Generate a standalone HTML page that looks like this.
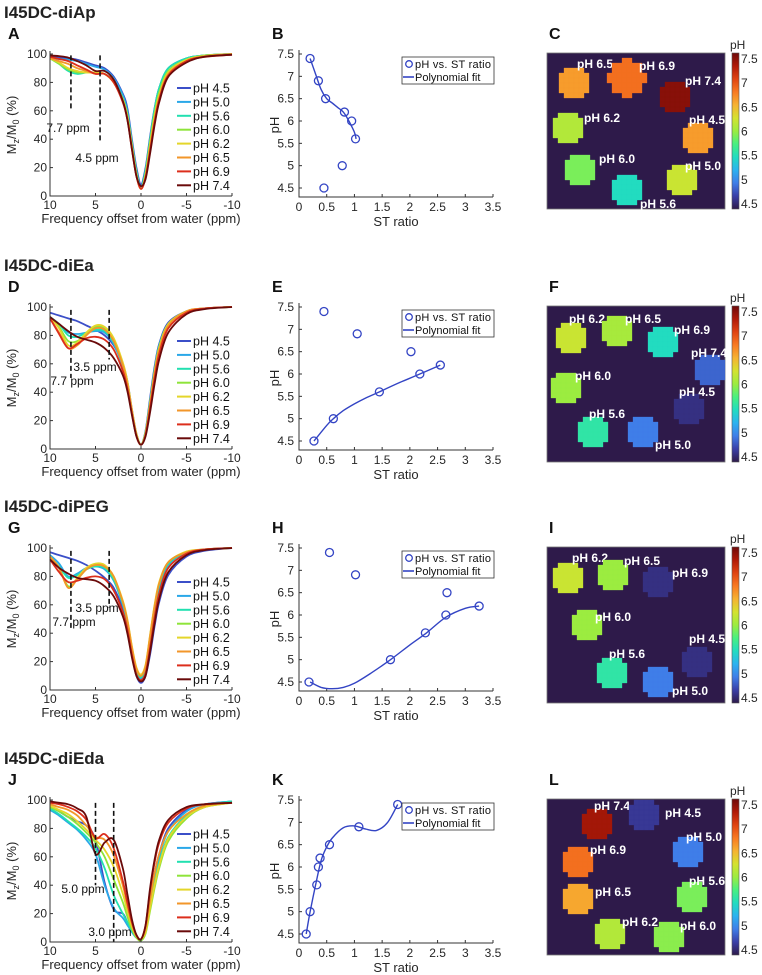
<!DOCTYPE html>
<html><head><meta charset="utf-8">
<style>
html,body{margin:0;padding:0;background:#fff;}
svg{display:block;font-family:"Liberation Sans",Arial,sans-serif;}
</style></head>
<body>
<svg id="fig" width="762" height="975" viewBox="0 0 762 975" xmlns="http://www.w3.org/2000/svg"></svg>
<script>
// ---------- DATA ----------
const rowTitles = ["I45DC-diAp","I45DC-diEa","I45DC-diPEG","I45DC-diEda"];
const panelLetters = [["A","B","C"],["D","E","F"],["G","H","I"],["J","K","L"]];
const phLabels = ["pH 4.5","pH 5.0","pH 5.6","pH 6.0","pH 6.2","pH 6.5","pH 6.9","pH 7.4"];
const phColors = ["#3b4fc8","#2aa8e8","#22e0b0","#8ee43a","#e4d62a","#f2962a","#dc2e1c","#6a0a0a"];
const zX = [10,9,8,7,6,5,4,3,2,1.5,1,0.5,0,-0.5,-1,-1.5,-2,-3,-5,-7,-10];
const zTicksX = [10,5,0,-5,-10];
const zTicksY = [0,20,40,60,80,100];

const zA = [
 [98,97.5,97,96,94,92,90,84,72,62,40,20,8,20,42,62,76,90,97,99,100],
 [97,96.5,96,95,93,91,89,83,71,60,38,18,6,18,40,61,76,90,97,99,100],
 [97,93,88,86,87,87,86,81,69,58,37,17,6,18,40,61,76,90,97,99,100],
 [97,93,89,87,87,87,86,80,68,57,36,16,5,16,38,58,73,88,96,99,100],
 [97,94,90,88,87,87,86,80,68,56,35,15,5,15,36,56,71,87,96,98.5,100],
 [97,95,93,90,88,86,86,80,67,55,34,14,5,14,34,54,69,86,95,98.5,100],
 [98,96.5,95,92,89,86,86,80,66,54,33,14,5,13,32,52,68,85,95,98,99.5],
 [99,98.5,97.5,95,92,88,88,82,67,54,33,14,7,12,30,50,66,84,94,98,99.5]];
const zD = [
 [96,94,92,90,87,84,80,73,60,48,28,11,3,13,36,58,74,89,97,99,100],
 [93,88,82,81,82,83,82,74,58,45,26,10,3,12,34,56,73,88,97,99,100],
 [93,88,80,79,82,84,83,75,59,46,27,10,3,12,33,55,72,88,97,99,100],
 [93,86,76,76,81,86,85,77,60,47,27,10,3,12,33,55,72,88,97,99,100],
 [93,85,73,75,82,87,86,78,61,48,28,11,3,11,32,54,71,88,97,99,100],
 [92,82,71,73,80,85,84,76,59,46,27,10,3,11,31,53,70,87,97,99,100],
 [92,81,71,74,78,79,77,70,55,43,25,9,3,10,29,50,67,85,96,99,100],
 [93,88,83,79,77,75,71,64,52,41,24,9,3,9,26,46,63,82,95,98.5,100]];
const zG = [
 [97,95,93,91,88,84,79,72,57,44,25,10,5,10,25,45,62,81,94,98,100],
 [95,89,80,82,86,87,85,77,60,47,28,13,8,15,35,56,72,88,97,99,100],
 [94,87,79,81,85,87,86,78,61,48,29,14,9,16,37,58,74,89,97,99,100],
 [94,86,73,78,85,88,87,79,62,49,30,15,10,17,38,59,75,90,97,99,100],
 [94,86,72,79,86,89,88,80,63,50,31,16,11,18,39,60,76,90,97.5,99,100],
 [94,86,72,78,85,88,87,80,62,49,30,15,10,17,38,59,75,90,97,99,100],
 [92,83,76,77,79,80,78,70,55,43,25,11,7,12,30,51,68,86,96,99,100],
 [92,86,82,79,78,77,73,66,52,40,23,10,6,10,27,47,64,83,95,98.5,100]];
const zJ = [
 [95,92,88,85,82,72,42,23,20,14,8,4,2,10,30,48,62,80,93,97,99],
 [93,89,84,79,72,62,40,24,17,12,7,3,2,9,28,46,60,78,92,97,99],
 [94,90,85,80,74,66,52,33,20,14,8,3,2,8,25,42,56,74,89,96,99],
 [95,92,88,83,77,70,60,44,28,18,9,3,1,6,22,38,52,71,87,95,98],
 [96,93,90,85,79,72,65,53,34,22,11,4,2,7,24,40,54,73,88,95,98],
 [97,95,93,89,82,74,72,61,40,26,13,4,2,9,30,48,62,78,90,96,98],
 [98,97,95,92,86,73,76,66,43,28,14,5,2,12,36,56,70,84,94,97,98],
 [99,98,97,94,88,62,70,72,52,34,16,5,2,12,38,58,72,86,95,97,98]];
const zSets = [zA,zD,zG,zJ];
const markers = [[[7.7,99,60],[4.5,99,38]],[[7.7,98,50],[3.5,98,63]],[[7.7,98,42],[3.5,98,58]],[[5.0,98,40],[3.0,98,0]]];
const markerLabels = [[["7.7 ppm",68,74],["4.5 ppm",97,104]],[["3.5 ppm",95,60],["7.7 ppm",72,74]],[["3.5 ppm",97,60],["7.7 ppm",74,74]],[["5.0 ppm",83,89],["3.0 ppm",110,132]]];

// scatter
const stTicksX = [0,0.5,1,1.5,2,2.5,3,3.5];
const stTicksY = [4.5,5,5.5,6,6.5,7,7.5];
const phVals = [4.5,5.0,5.6,6.0,6.2,6.5,6.9,7.4];
const stB = [0.45,0.78,1.02,0.95,0.82,0.48,0.35,0.2];
const stE = [0.27,0.62,1.45,2.18,2.55,2.02,1.05,0.45];
const stH = [0.18,1.65,2.28,2.65,3.25,2.67,1.02,0.55];
const stK = [0.13,0.2,0.32,0.35,0.38,0.55,1.08,1.78];
const stSets = [stB,stE,stH,stK];
const fitBx = [0.2,0.3,0.4,0.5,0.6,0.7,0.8,0.9,1.0,1.03];
const fitBy = [7.4,7.05,6.7,6.5,6.4,6.3,6.2,6.0,5.75,5.6];
const fitEx = [0.27,0.5,0.62,0.8,1.0,1.2,1.45,1.8,2.18,2.55];
const fitEy = [4.5,4.85,5.0,5.18,5.33,5.46,5.6,5.8,6.0,6.2];
const fitHx = [0.2,0.4,0.6,0.8,1.0,1.3,1.65,2.0,2.3,2.65,3.0,3.25];
const fitHy = [4.5,4.38,4.35,4.38,4.47,4.7,5.0,5.33,5.6,5.95,6.15,6.2];
const fitKx = [0.13,0.2,0.3,0.4,0.5,0.6,0.8,1.0,1.2,1.4,1.6,1.78];
const fitKy = [4.5,5.0,5.6,6.15,6.45,6.65,6.88,6.92,6.85,6.82,7.0,7.4];
const fitXs = [fitBx,fitEx,fitHx,fitKx];
const fitYs = [fitBy,fitEy,fitHy,fitKy];

// pH maps: [label, measured pH, cx, cy, r, labelX, labelY] (relative to image)
const mapC = [["pH 6.5",6.6,27,30,17,48,10],["pH 6.9",6.8,80,25,18,110,12],["pH 7.4",7.4,128,44,17,156,27],["pH 6.2",6.1,21,75,17,55,64],["pH 4.5",6.6,151,85,17,160,66],["pH 6.0",5.9,33,117,17,70,105],["pH 5.0",6.2,135,127,17,156,112],["pH 5.6",5.5,80,137,17,111,150]];
const mapF = [["pH 6.2",6.2,24,32,16,40,12],["pH 6.5",6.05,70,25,16,96,12],["pH 6.9",5.5,116,36,16,145,23],["pH 7.4",4.9,163,64,16,162,46],["pH 6.0",6.0,19,82,16,46,69],["pH 4.5",4.65,142,103,16,150,85],["pH 5.6",5.6,46,126,16,60,107],["pH 5.0",5.0,96,126,16,126,138]];
const mapI = [["pH 6.2",6.2,21,31,16,43,10],["pH 6.5",6.0,66,28,16,95,13],["pH 6.9",4.65,111,35,15,143,25],["pH 6.0",6.0,40,78,15,66,69],["pH 4.5",4.65,150,115,15,160,91],["pH 5.6",5.6,65,126,16,80,106],["pH 5.0",5.0,111,135,15,143,143]];
const mapL = [["pH 7.4",7.3,50,25,16,65,6],["pH 4.5",4.7,97,16,15,136,13],["pH 5.0",5.0,141,53,16,157,37],["pH 6.9",6.8,31,63,16,61,50],["pH 5.6",5.9,145,98,16,160,81],["pH 6.5",6.55,31,100,16,66,92],["pH 6.2",6.1,63,135,16,93,122],["pH 6.0",5.95,122,138,16,151,126]];
const mapSets = [mapC,mapF,mapI,mapL];
const cbTicks = [4.5,5,5.5,6,6.5,7,7.5];
const cmapStops = ["#2e1a4a","#3a3fa8","#3f7ee8","#2cb2f0","#22dcc0","#48f080","#9cec40","#d4e230","#f6b232","#f87a22","#e04412","#b01a08","#6e0a0a"];

// ---------- LAYOUT ----------
const rowTops = [54,307,548,800];
const svg = document.getElementById('fig');
const NS = "http://www.w3.org/2000/svg";
function mk(tag, attrs, parent){const e=document.createElementNS(NS,tag);for(const k in attrs)e.setAttribute(k,attrs[k]);(parent||svg).appendChild(e);return e;}
function txt(s, attrs, parent){const e=mk('text',attrs,parent);e.textContent=s;return e;}
function smooth(pts){let d=`M${pts[0][0].toFixed(1)},${pts[0][1].toFixed(1)}`;for(let i=0;i<pts.length-1;i++){const p0=pts[Math.max(0,i-1)],p1=pts[i],p2=pts[i+1],p3=pts[Math.min(pts.length-1,i+2)];const c1=[p1[0]+(p2[0]-p0[0])/6,p1[1]+(p2[1]-p0[1])/6],c2=[p2[0]-(p3[0]-p1[0])/6,p2[1]-(p3[1]-p1[1])/6];d+=`C${c1[0].toFixed(1)},${c1[1].toFixed(1)} ${c2[0].toFixed(1)},${c2[1].toFixed(1)} ${p2[0].toFixed(1)},${p2[1].toFixed(1)}`;}return d;}
function hex(h){return [parseInt(h.substr(1,2),16),parseInt(h.substr(3,2),16),parseInt(h.substr(5,2),16)];}
function cmap(x){x=Math.max(0,Math.min(1,x));const n=cmapStops.length-1;const i=Math.min(n-1,Math.floor(x*n));const f=x*n-i;
 const a=hex(cmapStops[i]),b=hex(cmapStops[i+1]);return `rgb(${a.map((v,k)=>Math.round(v+(b[k]-v)*f)).join(',')})`;}
const TXT="#262626";

rowTops.forEach((top,ri)=>{
 const bottom=top+142;
 const title=txt(rowTitles[ri],{x:4,y:top-36,'font-size':17,'font-weight':'bold',fill:'#222'});
 

 // ===== Z-spectrum panel =====
 const gz=mk('g',{});
 const L=50,R=232;
 const sx=v=>L+(10-v)/20*(R-L);
 const sy=v=>bottom-v/100*(bottom-top);
 txt(panelLetters[ri][0],{x:8,y:top-15,'font-size':16,'font-weight':'bold',fill:'#111'},gz);
 const g1=mk('g',{},gz);
 zSets[ri].forEach((ser,si)=>{
  const p=mk('path',{d:smooth(ser.map((v,i)=>[sx(zX[i]),sy(v)])),fill:'none',stroke:phColors[si],'stroke-width':1.8},g1);
  
  
 });
 markers[ri].forEach(m=>{const l=mk('line',{x1:sx(m[0]),x2:sx(m[0]),y1:sy(m[1]),y2:sy(m[2]),stroke:'#111','stroke-width':1.6,'stroke-dasharray':'5,3'},gz);
  });
 markerLabels[ri].forEach(m=>{const t=txt(m[0],{x:m[1],y:top+m[2]+4,'font-size':12,'text-anchor':'middle',fill:'#111'},gz);
  });
 mk('path',{d:`M${L},${top-3}V${bottom}H${R}`,fill:'none',stroke:'#333','stroke-width':1},gz);
 zTicksY.forEach(v=>{mk('line',{x1:L,x2:L+3,y1:sy(v),y2:sy(v),stroke:'#333'},gz);
  const t=txt(String(v),{x:L-3,y:sy(v)+4,'font-size':12,'text-anchor':'end',fill:TXT},gz);});
 zTicksX.forEach(v=>{mk('line',{x1:sx(v),x2:sx(v),y1:bottom,y2:bottom-3,stroke:'#333'},gz);
  const t=txt(String(v),{x:sx(v),y:bottom+13,'font-size':12,'text-anchor':'middle',fill:TXT},gz);});
 const xl=txt('Frequency offset from water (ppm)',{x:141,y:bottom+27,'font-size':13,'text-anchor':'middle',fill:TXT},gz);
 
 const yl=mk('text',{transform:`translate(16,${top+71}) rotate(-90)`,'font-size':13,'text-anchor':'middle',fill:TXT},gz);
 yl.innerHTML='M<tspan font-size="9" dy="3">z</tspan><tspan dy="-3">/M</tspan><tspan font-size="9" dy="3">0</tspan><tspan dy="-3"> (%)</tspan>';
 
 const lg=mk('g',{},gz);
 phLabels.forEach((lab,si)=>{const y=top+34+si*13.9;
  mk('line',{x1:177,x2:191,y1:y,y2:y,stroke:phColors[si],'stroke-width':2},lg);
  const t=txt(lab,{x:193,y:y+4.5,'font-size':12.5,fill:'#111'},lg);});

 // ===== Scatter panel =====
 const gs=mk('g',{});
 const SL=299,SR=493;
 const ssx=v=>SL+v/3.5*(SR-SL);
 const ssy=v=>top+(7.5-v)/3*134;
 const sb=top+143;
 txt(panelLetters[ri][1],{x:272,y:top-15,'font-size':16,'font-weight':'bold',fill:'#111'},gs);
 mk('path',{d:`M${SL},${top-4}V${sb}H${SR}`,fill:'none',stroke:'#333'},gs);
 stTicksY.forEach(v=>{mk('line',{x1:SL,x2:SL+3,y1:ssy(v),y2:ssy(v),stroke:'#333'},gs);
  const t=txt(String(v),{x:SL-5,y:ssy(v)+4,'font-size':12,'text-anchor':'end',fill:TXT},gs);});
 stTicksX.forEach(v=>{mk('line',{x1:ssx(v),x2:ssx(v),y1:sb,y2:sb-3,stroke:'#333'},gs);
  const t=txt(String(v),{x:ssx(v),y:sb+14,'font-size':12,'text-anchor':'middle',fill:TXT},gs);});
 const sxl=txt('ST ratio',{x:396,y:sb+29,'font-size':13,'text-anchor':'middle',fill:TXT},gs);
 const syl=txt('pH',{transform:`translate(279,${top+71}) rotate(-90)`,'font-size':13,'text-anchor':'middle',fill:TXT},gs);
 const fit=mk('path',{d:smooth(fitXs[ri].map((x,i)=>[ssx(x),ssy(fitYs[ri][i])])),fill:'none',stroke:'#3344c4','stroke-width':1.4},gs);
 
 stSets[ri].forEach((x,i)=>{const c=mk('circle',{cx:ssx(x),cy:ssy(phVals[i]),r:4,fill:'none',stroke:'#3344c4','stroke-width':1.3},gs);
  });
 const sl=mk('g',{},gs);
 mk('rect',{x:402,y:top+3,width:92,height:27,fill:'#fff',stroke:'#333','stroke-width':0.8},sl);
 mk('circle',{cx:409,cy:top+10,r:3.3,fill:'none',stroke:'#3344c4','stroke-width':1.3},sl);
 const l1=txt('pH vs. ST ratio',{x:415,y:top+14,'font-size':11,textLength:76,fill:'#111'},sl);
 mk('line',{x1:403,x2:414,y1:top+23,y2:top+23,stroke:'#3344c4','stroke-width':1.6},sl);
 const l2=txt('Polynomial fit',{x:415,y:top+27,'font-size':11,fill:'#111'},sl);

 // ===== pH map panel =====
 const gm=mk('g',{});
 const IX=547,IY=top-1,IW=178,IH=156;
 txt(panelLetters[ri][2],{x:549,y:top-15,'font-size':16,'font-weight':'bold',fill:'#111'},gm);
 mk('rect',{x:IX,y:IY,width:IW,height:IH,fill:cmap(0),stroke:'#777','stroke-width':0.8},gm);
 const cell=5;
 mapSets[ri].forEach(b=>{const gb=mk('g',{},gm);
  const col=cmap((b[1]-4.5)/3);
  let d='';const n=Math.ceil(b[4]/cell)+1;
  for(let i=-n;i<=n;i++)for(let j=-n;j<=n;j++){const px=(i+0.5)*cell,py=(j+0.5)*cell;
   if(px*px+py*py<=b[4]*b[4]){d+=`M${(IX+b[2]+i*cell).toFixed(1)},${(IY+b[3]+j*cell).toFixed(1)}h${cell}v${cell}h-${cell}z`;}}
  mk('path',{d:d,fill:col,stroke:col,'stroke-width':0.3},gb);
  const t=txt(b[0],{x:IX+b[5],y:IY+b[6]+5,'font-size':12,'font-weight':'bold','text-anchor':'middle',fill:'#fff'},gm);
  });
 const cb=mk('g',{},gm);
 const gid='cbg'+ri;const grad=mk('linearGradient',{id:gid,x1:0,y1:1,x2:0,y2:0},cb);
 for(let k=0;k<=12;k++)mk('stop',{offset:k/12,'stop-color':cmap(k/12)},grad);
 mk('rect',{x:732,y:IY,width:7,height:IH,fill:`url(#${gid})`,stroke:'#555','stroke-width':0.6},cb);
 const cy=v=>IY+IH-5-(v-4.5)/3*(IH-11);
 cbTicks.forEach(v=>{const t=txt(String(v),{x:741,y:cy(v)+4,'font-size':12,fill:TXT},cb);});
 const ct=txt('pH',{x:730,y:IY-4,'font-size':12,fill:TXT},cb);
});
</script>
</body></html>
